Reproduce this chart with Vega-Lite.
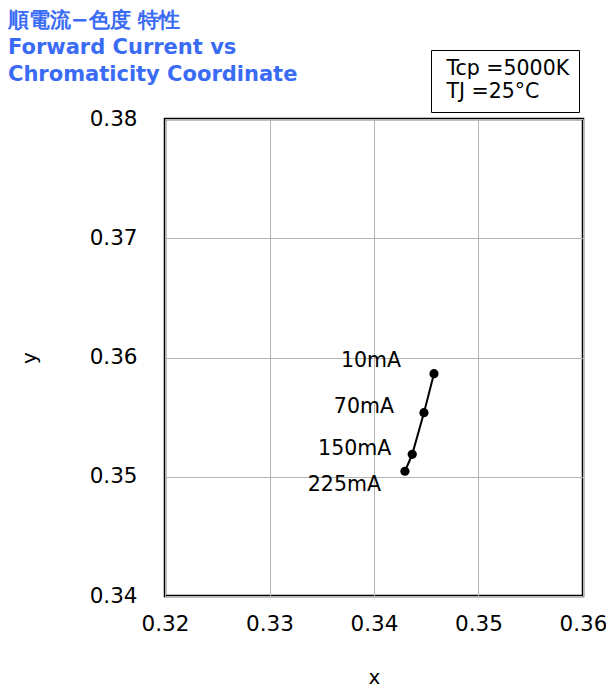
{
  "$schema": "https://vega.github.io/schema/vega-lite/v6.json",
  "width": 418,
  "height": 477,
  "autosize": {"type": "none"},
  "padding": {"left": 165, "top": 119, "right": 23, "bottom": 94},
  "background": "white",
  "title": {
    "text": ["順電流−色度 特性", "Forward Current vs", "Chromaticity Coordinate"],
    "anchor": "start",
    "frame": "group",
    "dx": -157,
    "offset": -35,
    "font": "DejaVu Sans",
    "fontSize": 21,
    "fontWeight": "bold",
    "color": "#3A6BF5",
    "lineHeight": 27
  },
  "config": {
    "view": {"stroke": "black", "strokeWidth": 2.5},
    "font": "DejaVu Sans",
    "axis": {
      "grid": true,
      "gridColor": "#b4b4b4",
      "gridWidth": 1,
      "domain": false,
      "ticks": false,
      "tickSize": 0,
      "labelFlush": false,
      "labelFont": "DejaVu Sans",
      "labelFontSize": 21.5,
      "labelColor": "black",
      "titleFont": "DejaVu Sans",
      "titleFontSize": 20,
      "titleFontWeight": "normal",
      "titleColor": "black"
    }
  },
  "datasets": {
    "pts": [
      {"current": "10mA", "x": 0.34574, "y": 0.35864},
      {"current": "70mA", "x": 0.34478, "y": 0.35537},
      {"current": "150mA", "x": 0.34366, "y": 0.35188},
      {"current": "225mA", "x": 0.34296, "y": 0.35046}
    ],
    "cond": [
      {"cond": "Tcp =5000K"},
      {"cond": "TJ =25°C"}
    ]
  },
  "layer": [
    {
      "data": {"name": "pts"},
      "mark": {"type": "line", "color": "black", "strokeWidth": 2},
      "encoding": {
        "x": {"field": "x", "type": "quantitative", "scale": {"domain": [0.32, 0.36], "nice": false, "zero": false},
              "axis": {"values": [0.32, 0.33, 0.34, 0.35, 0.36], "format": ".2f", "title": "x", "labelPadding": 17, "titlePadding": 33}},
        "y": {"field": "y", "type": "quantitative", "scale": {"domain": [0.34, 0.38], "nice": false, "zero": false},
              "axis": {"values": [0.34, 0.35, 0.36, 0.37, 0.38], "format": ".2f", "title": "y", "labelPadding": 28, "titlePadding": 50}},
        "order": {"field": "y", "type": "quantitative"}
      }
    },
    {
      "data": {"name": "pts"},
      "mark": {"type": "point", "filled": true, "color": "black", "size": 85, "opacity": 1},
      "encoding": {
        "x": {"field": "x", "type": "quantitative"},
        "y": {"field": "y", "type": "quantitative"}
      }
    },
    {
      "data": {"name": "pts"},
      "transform": [{"filter": "datum.current == '10mA'"}],
      "mark": {"type": "text", "align": "right", "baseline": "middle", "dx": -33, "dy": -13, "fontSize": 20.5, "font": "DejaVu Sans", "color": "black"},
      "encoding": {
        "x": {"field": "x", "type": "quantitative"},
        "y": {"field": "y", "type": "quantitative"},
        "text": {"field": "current"}
      }
    },
    {
      "data": {"name": "pts"},
      "transform": [{"filter": "datum.current == '70mA'"}],
      "mark": {"type": "text", "align": "right", "baseline": "middle", "dx": -30, "dy": -6, "fontSize": 20.5, "font": "DejaVu Sans", "color": "black"},
      "encoding": {
        "x": {"field": "x", "type": "quantitative"},
        "y": {"field": "y", "type": "quantitative"},
        "text": {"field": "current"}
      }
    },
    {
      "data": {"name": "pts"},
      "transform": [{"filter": "datum.current == '150mA'"}],
      "mark": {"type": "text", "align": "right", "baseline": "middle", "dx": -21, "dy": -5, "fontSize": 20.5, "font": "DejaVu Sans", "color": "black"},
      "encoding": {
        "x": {"field": "x", "type": "quantitative"},
        "y": {"field": "y", "type": "quantitative"},
        "text": {"field": "current"}
      }
    },
    {
      "data": {"name": "pts"},
      "transform": [{"filter": "datum.current == '225mA'"}],
      "mark": {"type": "text", "align": "right", "baseline": "middle", "dx": -24, "dy": 14, "fontSize": 20.5, "font": "DejaVu Sans", "color": "black"},
      "encoding": {
        "x": {"field": "x", "type": "quantitative"},
        "y": {"field": "y", "type": "quantitative"},
        "text": {"field": "current"}
      }
    },
    {
      "data": {"name": "cond"},
      "mark": {"type": "point", "opacity": 0},
      "encoding": {
        "color": {
          "field": "cond", "type": "nominal",
          "scale": {"domain": ["Tcp =5000K", "TJ =25°C"], "range": ["black", "black"]},
          "legend": {
            "orient": "none",
            "legendX": 266,
            "legendY": -69,
            "title": null,
            "strokeColor": "black",
            "fillColor": "white",
            "padding": 9,
            "symbolSize": 0,
            "symbolOpacity": 0,
            "labelOffset": -14,
            "labelFont": "DejaVu Sans",
            "labelFontSize": 20.5,
            "labelColor": "black",
            "rowPadding": 2,
            "labelLimit": 300
          }
        }
      }
    }
  ]
}
